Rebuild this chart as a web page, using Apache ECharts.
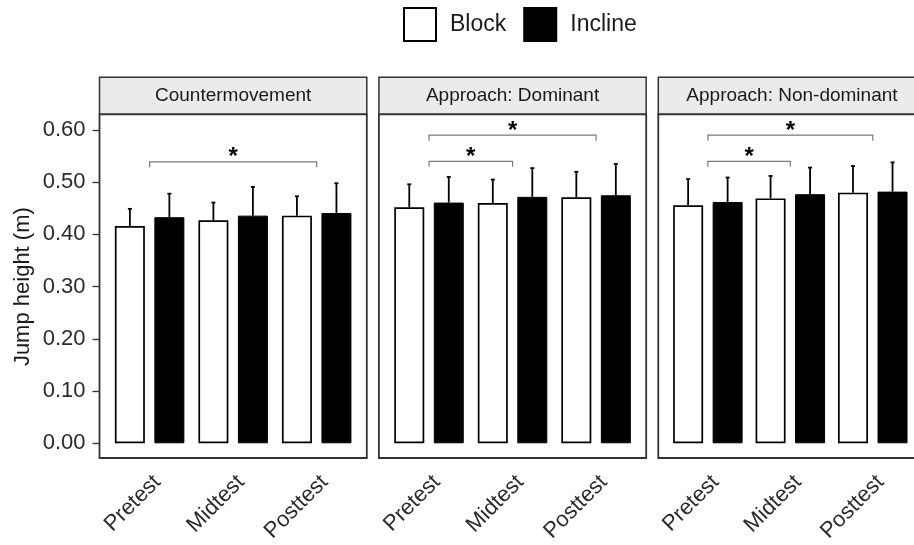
<!DOCTYPE html>
<html>
<head>
<meta charset="utf-8">
<style>
  html, body { margin: 0; padding: 0; background: #ffffff; }
  #chart { width: 914px; height: 545px; }
</style>
<script src="https://cdn.jsdelivr.net/npm/echarts@6/dist/echarts.min.js"></script>
</head>
<body>
<div id="chart"></div>
<script>
// Test phases on the x axis of every panel
const categories = ['Pretest', 'Midtest', 'Posttest'];
// Facet titles
const panelTitles = ['Countermovement', 'Approach: Dominant', 'Approach: Non-dominant'];
// y-axis range and tick step (m)
const yMin = 0, yMax = 0.6, yStep = 0.1;

// Countermovement jump: mean and SD (m)
const cmBlockMean = [0.416, 0.427, 0.436];
const cmBlockSD = [0.033, 0.034, 0.037];
const cmInclineMean = [0.433, 0.436, 0.441];
const cmInclineSD = [0.045, 0.055, 0.057];

// Approach jump, dominant leg
const domBlockMean = [0.452, 0.460, 0.471];
const domBlockSD = [0.044, 0.045, 0.049];
const domInclineMean = [0.461, 0.472, 0.475];
const domInclineSD = [0.049, 0.055, 0.060];

// Approach jump, non-dominant leg
const ndBlockMean = [0.456, 0.469, 0.480];
const ndBlockSD = [0.050, 0.043, 0.051];
const ndInclineMean = [0.462, 0.477, 0.482];
const ndInclineSD = [0.047, 0.051, 0.056];

// Significance brackets: [from category, to category, height (m)]
const cmBrackets = [[0, 2, 0.539]];
const domBrackets = [[0, 2, 0.590], [0, 1, 0.540]];
const ndBrackets = [[0, 2, 0.590], [0, 1, 0.540]];

const panelData = [
  { bm: cmBlockMean, bs: cmBlockSD, im: cmInclineMean, is: cmInclineSD, br: cmBrackets },
  { bm: domBlockMean, bs: domBlockSD, im: domInclineMean, is: domInclineSD, br: domBrackets },
  { bm: ndBlockMean, bs: ndBlockSD, im: ndInclineMean, is: ndInclineSD, br: ndBrackets }
];

// ---- layout ----
const FONT = '"Liberation Sans", Arial, Helvetica, sans-serif';
const PANEL_LEFT0 = 99.5;
const PANEL_STEP = 279.4;
const PANEL_W = 267.3;
const PANEL_TOP = 114.3;
const PANEL_BOTTOM = 458;
const STRIP_TOP = 77.3;
const Y_TOP = 130;      // pixel row of yMax
const Y_ZERO = 443.3;   // pixel row of yMin
const UNIT = PANEL_W / 3.2;   // one category step, with 0.6 step padding on both sides
const BAR_W = 30;
const BAR_GAP = 9.5;
const DODGE = (BAR_W + BAR_GAP) / 2;
const FRAME_COLOR = '#333333';

const chart = echarts.init(document.getElementById('chart'), null, { renderer: 'canvas' });

const grids = [], xAxes = [], yAxes = [], series = [], graphics = [];

panelData.forEach((pd, p) => {
  const panelLeft = PANEL_LEFT0 + p * PANEL_STEP;
  grids.push({
    left: panelLeft + 0.1 * UNIT,
    width: 3 * UNIT,
    top: Y_TOP,
    height: Y_ZERO - Y_TOP,
    containLabel: false
  });
  xAxes.push({
    type: 'category',
    gridIndex: p,
    data: categories,
    offset: PANEL_BOTTOM - Y_ZERO,
    axisLine: { show: false },
    axisTick: { show: false },
    axisLabel: {
      rotate: 45,
      margin: 13,
      align: 'right',
      verticalAlign: 'top',
      fontSize: 22,
      fontFamily: FONT,
      color: '#2b2b2b'
    }
  });
  yAxes.push({
    type: 'value',
    gridIndex: p,
    min: yMin,
    max: yMax,
    interval: yStep,
    offset: 0.1 * UNIT,
    splitLine: { show: false },
    axisLine: { show: false },
    axisTick: { show: p === 0, length: 7, lineStyle: { color: FRAME_COLOR, width: 1.3 } },
    axisLabel: {
      show: p === 0,
      margin: 14,
      fontSize: 22,
      fontFamily: FONT,
      color: '#2b2b2b',
      formatter: v => v.toFixed(2)
    },
    name: p === 0 ? 'Jump height (m)' : '',
    nameLocation: 'middle',
    nameRotate: 90,
    nameGap: 66,
    nameTextStyle: { fontSize: 22, fontFamily: FONT, color: '#1a1a1a' }
  });

  series.push({
    name: 'Block',
    type: 'bar',
    xAxisIndex: p,
    yAxisIndex: p,
    data: pd.bm,
    barWidth: BAR_W,
    barGap: (BAR_GAP / BAR_W * 100).toFixed(1) + '%',
    itemStyle: { color: '#ffffff', borderColor: '#000000', borderWidth: 1.7 },
    emphasis: { disabled: true },
    z: 2
  });
  series.push({
    name: 'Incline',
    type: 'bar',
    xAxisIndex: p,
    yAxisIndex: p,
    data: pd.im,
    barWidth: BAR_W,
    barGap: (BAR_GAP / BAR_W * 100).toFixed(1) + '%',
    itemStyle: { color: '#000000', borderColor: '#000000', borderWidth: 1 },
    emphasis: { disabled: true },
    z: 2
  });

  // upper error bars: [category, mean, sd, slot]
  const errData = [];
  categories.forEach((c, i) => {
    errData.push([i, pd.bm[i], pd.bs[i], 0]);
    errData.push([i, pd.im[i], pd.is[i], 1]);
  });
  series.push({
    type: 'custom',
    xAxisIndex: p,
    yAxisIndex: p,
    data: errData,
    z: 3,
    silent: true,
    renderItem: function (params, api) {
      const cat = api.value(0), mean = api.value(1), sd = api.value(2), slot = api.value(3);
      const base = api.coord([cat, mean]);
      const top = api.coord([cat, mean + sd]);
      const x = base[0] + (slot === 0 ? -DODGE : DODGE);
      const style = { stroke: '#000000', lineWidth: 1.8 };
      return {
        type: 'group',
        children: [
          { type: 'line', shape: { x1: x, y1: base[1], x2: x, y2: top[1] }, style: style },
          { type: 'line', shape: { x1: x - 2, y1: top[1], x2: x + 2, y2: top[1] }, style: style }
        ]
      };
    }
  });

  // significance brackets
  series.push({
    type: 'custom',
    xAxisIndex: p,
    yAxisIndex: p,
    data: pd.br,
    z: 3,
    silent: true,
    renderItem: function (params, api) {
      const a = api.coord([api.value(0), api.value(2)]);
      const b = api.coord([api.value(1), api.value(2)]);
      const tip = 5.5;
      return {
        type: 'group',
        children: [
          {
            type: 'polyline',
            shape: { points: [[a[0], a[1] + tip], [a[0], a[1]], [b[0], b[1]], [b[0], b[1] + tip]] },
            style: { stroke: '#7a7a7a', lineWidth: 1.2, fill: null }
          },
          {
            type: 'text',
            x: (a[0] + b[0]) / 2,
            y: a[1] + 8,
            style: {
              text: '*',
              fill: '#000000',
              font: 'bold 24px ' + FONT,
              textAlign: 'center',
              textVerticalAlign: 'bottom'
            }
          }
        ]
      };
    }
  });

  // panel frame and strip
  graphics.push({
    type: 'rect',
    shape: { x: panelLeft, y: STRIP_TOP, width: PANEL_W, height: PANEL_TOP - STRIP_TOP },
    style: { fill: '#ebebeb', stroke: FRAME_COLOR, lineWidth: 1.5 },
    z: 10, silent: true
  });
  graphics.push({
    type: 'text',
    x: panelLeft + PANEL_W / 2,
    y: (STRIP_TOP + PANEL_TOP) / 2,
    style: {
      text: panelTitles[p],
      fill: '#1a1a1a',
      font: '19px ' + FONT,
      textAlign: 'center',
      textVerticalAlign: 'middle'
    },
    z: 11, silent: true
  });
  graphics.push({
    type: 'rect',
    shape: { x: panelLeft, y: PANEL_TOP, width: PANEL_W, height: PANEL_BOTTOM - PANEL_TOP },
    style: { fill: null, stroke: FRAME_COLOR, lineWidth: 1.8 },
    z: 10, silent: true
  });
});

chart.setOption({
  backgroundColor: '#ffffff',
  animation: false,
  legend: {
    data: ['Block', 'Incline'],
    left: 398,
    top: 2,
    icon: 'rect',
    itemWidth: 32,
    itemHeight: 33,
    itemGap: 17,
    selectedMode: false,
    textStyle: { fontSize: 23, fontFamily: FONT, color: '#1a1a1a', padding: [0, 0, 0, 9] }
  },
  grid: grids,
  xAxis: xAxes,
  yAxis: yAxes,
  series: series,
  graphic: graphics
});
</script>
</body>
</html>
